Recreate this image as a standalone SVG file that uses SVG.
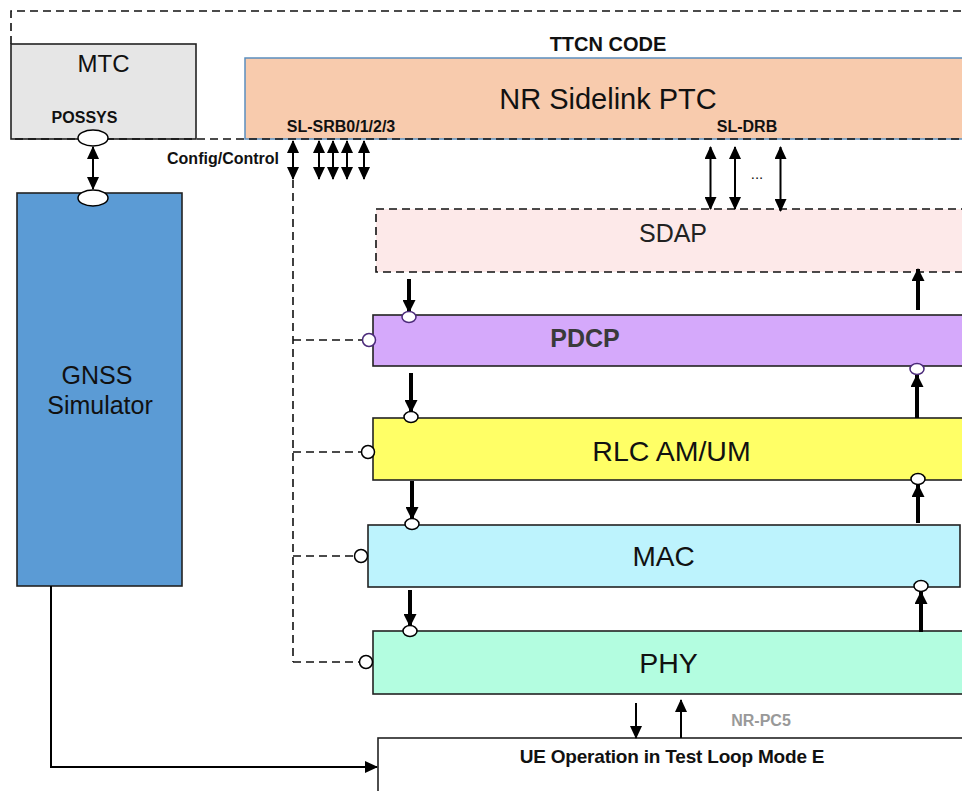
<svg xmlns="http://www.w3.org/2000/svg" width="962" height="791" viewBox="0 0 962 791">
<style>
text{font-family:"Liberation Sans",Arial,sans-serif;fill:#111}
.b{font-weight:bold}
.box{stroke:#222;stroke-width:1.6}
.dash{fill:none;stroke:#111;stroke-width:1.6;stroke-dasharray:8,5}
.thin{stroke:#000;stroke-width:2;fill:none}
.thick{stroke:#000;stroke-width:4;fill:none}
.port{fill:#fff;stroke:#000;stroke-width:1.5}
</style>
<defs>
<marker id="ah" markerUnits="userSpaceOnUse" markerWidth="13" markerHeight="12" refX="12" refY="6" orient="auto-start-reverse"><path d="M0,0 L13,6 L0,12 z" fill="#000"/></marker>
<marker id="ahT" markerUnits="userSpaceOnUse" markerWidth="13" markerHeight="13" refX="12" refY="6.5" orient="auto"><path d="M0,0 L13,6.5 L0,13 z" fill="#000"/></marker>
</defs>
<rect width="962" height="791" fill="#fff"/>

<g id="frame">
<path class="dash" d="M11,44 V11 H962"/>
<text class="b" x="608" y="51" font-size="20" text-anchor="middle">TTCN CODE</text>
</g>

<g id="ptc">
<rect x="245" y="58" width="730" height="81" fill="#f8cbad" stroke="#5b8fbf" stroke-width="1.5"/>
<text x="608" y="109" font-size="29" text-anchor="middle">NR Sidelink PTC</text>
<text class="b" x="341" y="132" font-size="16" text-anchor="middle">SL-SRB0/1/2/3</text>
<text class="b" x="747" y="132" font-size="16" text-anchor="middle">SL-DRB</text>
</g>

<g id="mtc">
<rect class="box" x="11" y="44" width="185" height="95" fill="#e6e6e6"/>
<text x="103.5" y="72" font-size="24" text-anchor="middle">MTC</text>
<text class="b" x="84.5" y="123" font-size="16" text-anchor="middle">POSSYS</text>
</g>

<path class="dash" d="M15,139 H962"/>

<g id="gnss">
<rect class="box" x="17" y="193" width="165" height="393" fill="#5b9bd5"/>
<text x="97" y="384" font-size="25" text-anchor="middle">GNSS</text>
<text x="100" y="414" font-size="25" text-anchor="middle">Simulator</text>
</g>

<g id="sdap">
<rect class="dash" x="376" y="209" width="600" height="63" style="fill:#fde9e9"/>
<text x="673" y="242" font-size="25" text-anchor="middle" style="fill:#222">SDAP</text>
</g>

<g id="pdcp">
<rect class="box" x="373" y="315" width="600" height="51" fill="#d5a9fb"/>
<text class="b" x="585" y="347" font-size="25" text-anchor="middle" style="fill:#3a3a3a">PDCP</text>
</g>

<g id="rlc">
<rect class="box" x="373" y="418" width="600" height="62" fill="#ffff66"/>
<text x="671.5" y="461" font-size="28.5" text-anchor="middle">RLC AM/UM</text>
</g>

<g id="mac">
<rect class="box" x="368" y="525" width="592" height="62" fill="#bdf3fd"/>
<text x="663.5" y="566" font-size="28" text-anchor="middle">MAC</text>
</g>

<g id="phy">
<rect class="box" x="373" y="631" width="600" height="63" fill="#b3fde0"/>
<text x="668.5" y="673" font-size="28.5" text-anchor="middle">PHY</text>
</g>

<g id="ue">
<rect class="box" x="378" y="738" width="600" height="60" fill="#fff"/>
<text class="b" x="672" y="763" font-size="19" text-anchor="middle" letter-spacing="-0.2">UE Operation in Test Loop Mode E</text>
</g>

<g id="connectors">
<!-- POSSYS link -->
<line class="thin" x1="93" y1="147" x2="93" y2="189" marker-start="url(#ah)" marker-end="url(#ah)"/>
<ellipse class="port" cx="93" cy="138" rx="15" ry="8"/>
<ellipse class="port" cx="93" cy="198" rx="15" ry="8"/>

<!-- Config/Control & SRB -->
<text class="b" x="279" y="164" font-size="16" text-anchor="end">Config/Control</text>
<line class="thin" x1="293" y1="141" x2="293" y2="179" marker-start="url(#ah)" marker-end="url(#ah)"/>
<line class="thin" x1="319" y1="141" x2="319" y2="179" marker-start="url(#ah)" marker-end="url(#ah)"/>
<line class="thin" x1="333" y1="141" x2="333" y2="179" marker-start="url(#ah)" marker-end="url(#ah)"/>
<line class="thin" x1="347" y1="141" x2="347" y2="179" marker-start="url(#ah)" marker-end="url(#ah)"/>
<line class="thin" x1="364" y1="141" x2="364" y2="179" marker-start="url(#ah)" marker-end="url(#ah)"/>

<!-- DRB -->
<line class="thin" x1="710.5" y1="147" x2="710.5" y2="209" marker-start="url(#ah)" marker-end="url(#ah)"/>
<line class="thin" x1="735" y1="147" x2="735" y2="209" marker-start="url(#ah)" marker-end="url(#ah)"/>
<line class="thin" x1="780.5" y1="147" x2="780.5" y2="211" marker-start="url(#ah)" marker-end="url(#ah)"/>
<text x="757" y="179" font-size="15" text-anchor="middle">...</text>

<!-- control dashed -->
<path class="dash" d="M293,180 V662 M293,340 H362 M293,452 H361 M293,556 H354 M293,662 H359"/>
<ellipse class="port" cx="369" cy="340" rx="6.5" ry="6.5" style="stroke:#4b2a7a"/>
<ellipse class="port" cx="368" cy="452" rx="6.5" ry="6.5"/>
<ellipse class="port" cx="361" cy="556" rx="6.5" ry="6.5"/>
<ellipse class="port" cx="366" cy="662" rx="6.5" ry="6.5"/>

<!-- down data path -->
<line class="thick" x1="409" y1="279" x2="409" y2="312" marker-end="url(#ahT)"/>
<line class="thick" x1="411" y1="373" x2="411" y2="412" marker-end="url(#ahT)"/>
<line class="thick" x1="412" y1="481" x2="412" y2="519" marker-end="url(#ahT)"/>
<line class="thick" x1="410" y1="590" x2="410" y2="626" marker-end="url(#ahT)"/>
<ellipse class="port" cx="409" cy="317" rx="7" ry="5.5" style="stroke:#4b2a7a"/>
<ellipse class="port" cx="411" cy="417" rx="7" ry="5.5"/>
<ellipse class="port" cx="412" cy="524" rx="7" ry="5.5"/>
<ellipse class="port" cx="410" cy="631" rx="7" ry="5.5"/>

<!-- up data path -->
<line class="thick" x1="918" y1="310" x2="918" y2="269" marker-end="url(#ahT)"/>
<line class="thick" x1="917" y1="418" x2="917" y2="375" marker-end="url(#ahT)"/>
<line class="thick" x1="918" y1="523" x2="918" y2="485" marker-end="url(#ahT)"/>
<line class="thick" x1="921" y1="632" x2="921" y2="592" marker-end="url(#ahT)"/>
<ellipse class="port" cx="917" cy="369" rx="7" ry="5.5" style="stroke:#4b2a7a"/>
<ellipse class="port" cx="918" cy="479" rx="7" ry="5.5"/>
<ellipse class="port" cx="921" cy="586" rx="7" ry="5.5"/>

<!-- NR-PC5 -->
<line class="thin" x1="636" y1="703" x2="636" y2="738" marker-end="url(#ah)"/>
<line class="thin" x1="681" y1="738" x2="681" y2="700" marker-end="url(#ah)"/>
<text class="b" x="761" y="726" font-size="16" text-anchor="middle" style="fill:#999">NR-PC5</text>

<!-- GNSS to UE -->
<polyline class="thin" points="51,586 51,767 377,767" marker-end="url(#ah)"/>
</g>
</svg>
